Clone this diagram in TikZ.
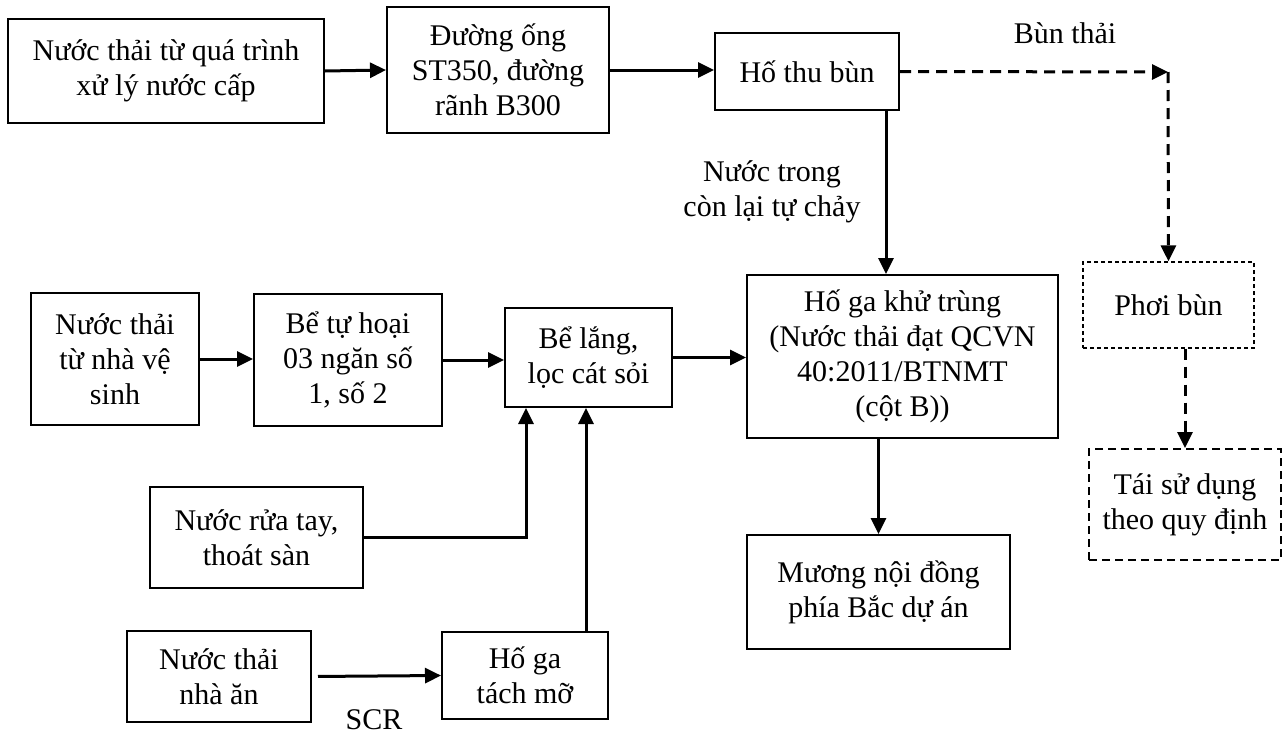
\documentclass[tikz,border=0pt]{standalone}
\usepackage{fontspec}
\setmainfont{Liberation Serif}
\usetikzlibrary{arrows.meta}
\begin{document}
\begin{tikzpicture}[x=1pt,y=-1pt,
  font=\fontsize{30}{35}\selectfont,
  box/.style={draw=black,line width=2pt,inner sep=0pt,align=center},
  thinbox/.style={draw=black,line width=1.2pt,dash pattern=on 4pt off 3pt,inner sep=0pt,align=center},
  dbox/.style={draw=black,line width=2pt,dash pattern=on 8pt off 5pt,inner sep=0pt,align=center},
  arr/.style={line width=3pt,-{Triangle[length=16pt,width=15pt]}},
  darr/.style={arr,dash pattern=on 11pt off 7pt},
  lbl/.style={inner sep=0pt,align=center}]
\useasboundingbox (0,0) rectangle (1286,734);
\fill[white] (0,0) rectangle (1286,734);
% nodes
\node[box,minimum width=316pt,minimum height=104pt] (b1) at (166,71) {Nước thải từ quá trình\\xử lý nước cấp};
\node[box,minimum width=222pt,minimum height=126pt] (b2) at (498,70) {Đường ống\\ST350, đường\\rãnh B300};
\node[box,minimum width=184pt,minimum height=77pt] (thubun) at (807,71.5) {Hố thu bùn};
\node[box,minimum width=311pt,minimum height=163pt] (khutrung) at (902.5,356.5) {Hố ga khử trùng\\(Nước thải đạt QCVN\\40:2011/BTNMT\\(cột B))};
\node[thinbox,minimum width=171pt,minimum height=86pt] (phoibun) at (1168.5,305) {Phơi bùn};
\node[dbox,minimum width=192pt,minimum height=111pt] (taisd) at (1185,504.5) {Tái sử dụng\\theo quy định};
\node[box,minimum width=263pt,minimum height=114pt] (muong) at (878.5,592) {Mương nội đồng\\phía Bắc dự án};
\node[box,minimum width=168pt,minimum height=132pt] (vs) at (115,359) {Nước thải\\từ nhà vệ\\sinh};
\node[box,minimum width=188pt,minimum height=132pt] (tuhoai) at (348,360) {Bể tự hoại\\03 ngăn số\\1, số 2};
\node[box,minimum width=167pt,minimum height=99pt] (belang) at (588.5,357.5) {Bể lắng,\\lọc cát sỏi};
\node[box,minimum width=213pt,minimum height=101pt] (ruatay) at (256.5,537.5) {Nước rửa tay,\\thoát sàn};
\node[box,minimum width=184pt,minimum height=91pt] (nhaan) at (219,676.5) {Nước thải\\nhà ăn};
\node[box,minimum width=166pt,minimum height=87pt] (tachmo) at (525,675.5) {Hố ga\\tách mỡ};
% labels
\node[lbl] (lbun) at (1065,33) {Bùn thải};
\node[lbl] (ltrong) at (772,192) {Nước trong\\còn lại tự chảy};
\node[lbl,anchor=base] (lscr) at (374,729) {SCR};
% helper coordinates
\coordinate (corner) at (1168,72);
\coordinate (xthu) at (886,0);
\coordinate (xrua) at (526,0);
\coordinate (xtach) at (586,0);
% connectors
\draw[arr] (b1.east) -- (b2.west);
\draw[arr] (b2.east) -- (b2.east -| thubun.west);
\draw[darr] (thubun.east) -- (corner);
\draw[darr] (corner) -- (phoibun.north);
\draw[darr] (phoibun.south -| taisd.north) -- (taisd.north);
\draw[arr] (thubun.south -| xthu) -- (khutrung.north -| xthu);
\draw[arr] (khutrung.south -| muong.north) -- (muong.north);
\draw[arr] (vs.east) -- (vs.east -| tuhoai.west);
\draw[arr] (tuhoai.east) -- (tuhoai.east -| belang.west);
\draw[arr] (belang.east) -- (belang.east -| khutrung.west);
\draw[arr] (ruatay.east) -| (belang.south -| xrua);
\draw[arr] (tachmo.north -| xtach) -- (belang.south -| xtach);
\draw[arr,shorten <=6pt] (nhaan.east) -- (tachmo.west);
\end{tikzpicture}
\end{document}
